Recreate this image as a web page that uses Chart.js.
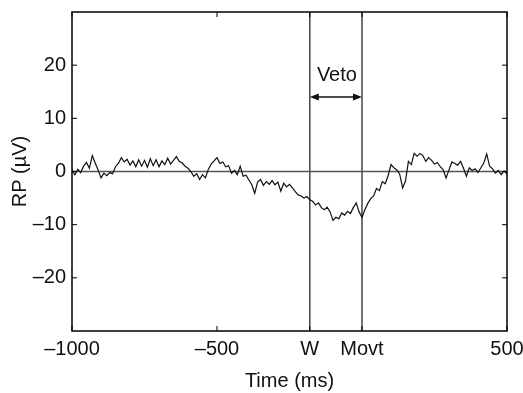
<!DOCTYPE html>
<html>
<head>
<meta charset="utf-8">
<script src="https://cdn.jsdelivr.net/npm/chart.js@4.4.1/dist/chart.umd.min.js"></script>
<style>
  html, body { margin: 0; padding: 0; background: #fff; }
</style>
</head>
<body>
<canvas id="rp" width="523" height="393"></canvas>
<script>
// ── Data ──
const sampleStart = -1000;   // ms, first sample
const sampleStep = 10;       // ms between samples

// readiness potential, µV, one value per sample from -1000 to 500 ms
const rpValues = [
  0.3, -0.6, 0.4, -0.2, 1.0, 1.7, 0.6, 3.0, 1.6, 0.3,
  -1.2, -0.3, -0.8, -0.2, -0.4, 0.9, 1.5, 2.6, 1.8, 2.3,
  1.2, 2.0, 0.9, 2.2, 1.0, 2.1, 0.8, 2.4, 1.1, 2.2,
  0.9, 2.0, 1.3, 2.5, 1.4, 2.1, 2.8, 1.9, 1.6, 1.0,
  0.6, 0.0, -0.9, -0.4, -1.5, -0.6, -1.2, 0.4, 1.4, 2.0,
  2.6, 1.5, 1.8, 0.9, 1.1, -0.3, 0.2, -0.6, 1.0, -0.9,
  -0.7, -1.6, -2.5, -4.1, -2.0, -1.5, -2.6, -1.9, -2.4, -1.7,
  -2.5, -2.0, -3.7, -2.2, -2.9, -2.4, -3.1, -3.8, -4.4, -4.6,
  -5.0, -4.7, -5.3, -5.6, -6.3, -5.9, -6.8, -7.2, -6.7, -7.6,
  -9.2, -8.6, -8.9, -7.8, -8.2, -7.5, -7.9, -6.8, -5.9, -7.6,
  -8.6, -7.2, -6.0, -5.1, -4.6, -3.2, -3.6, -1.9, -2.3, -0.8,
  1.3, 0.7, 0.3, -0.5, -3.1, -1.8, 1.9, 1.3, 3.4, 2.9,
  3.4, 3.0, 1.9, 2.6, 2.1, 1.4, 1.7, 0.9, 0.3, -1.2,
  0.3, 1.8, 1.5, 1.2, 1.9, 0.6, -0.9, 0.7, 0.2, 0.5,
  -0.2, 0.7, 1.6, 3.3, 1.0, 0.5, -0.3, 0.2, -0.6, 0.1,
  -0.5
];

const xRange = [-1000, 500];
const yRange = [-30, 30];
const xTickValues = [-1000, -500, -180, 0, 500];
const xTickLabels = ['\u20131000', '\u2013500', 'W', 'Movt', '500'];
const yTickValues = [-20, -10, 0, 10, 20];
const yTickLabels = ['\u201320', '\u201310', '0', '10', '20'];

const markerTimes = [-180, 0];   // W, Movt
const vetoArrowY = 14;
const vetoLabelY = 18;
const vetoLabel = 'Veto';

const FONT = 'Liberation Sans, Arial, Helvetica, sans-serif';

// ── Frame, inward ticks and veto arrow ──
const framePlugin = {
  id: 'frame',
  afterDatasetsDraw(chart) {
    const { ctx, chartArea: a, scales: { x, y } } = chart;
    ctx.save();
    ctx.strokeStyle = '#000';
    ctx.lineWidth = 1.5;
    ctx.strokeRect(a.left, a.top, a.right - a.left, a.bottom - a.top);

    const tl = 5;
    ctx.lineWidth = 1;
    ctx.beginPath();
    yTickValues.forEach(v => {
      const py = y.getPixelForValue(v);
      ctx.moveTo(a.left, py); ctx.lineTo(a.left + tl, py);
      ctx.moveTo(a.right, py); ctx.lineTo(a.right - tl, py);
    });
    xTickValues.forEach(v => {
      const px = x.getPixelForValue(v);
      ctx.moveTo(px, a.bottom); ctx.lineTo(px, a.bottom - tl);
      ctx.moveTo(px, a.top); ctx.lineTo(px, a.top + tl);
    });
    ctx.stroke();

    // double arrow between W and Movt
    const x1 = x.getPixelForValue(markerTimes[0]);
    const x2 = x.getPixelForValue(markerTimes[1]);
    const ay = y.getPixelForValue(vetoArrowY);
    const head = 9, half = 3.5;
    ctx.strokeStyle = '#111';
    ctx.fillStyle = '#111';
    ctx.lineWidth = 1.5;
    ctx.beginPath();
    ctx.moveTo(x1 + head - 1, ay); ctx.lineTo(x2 - head + 1, ay);
    ctx.stroke();
    ctx.beginPath();
    ctx.moveTo(x1, ay); ctx.lineTo(x1 + head, ay - half); ctx.lineTo(x1 + head, ay + half);
    ctx.closePath();
    ctx.moveTo(x2, ay); ctx.lineTo(x2 - head, ay - half); ctx.lineTo(x2 - head, ay + half);
    ctx.closePath();
    ctx.fill();

    ctx.font = `20px ${FONT}`;
    ctx.textAlign = 'center';
    ctx.textBaseline = 'middle';
    ctx.fillStyle = '#111';
    ctx.fillText(vetoLabel, (x1 + x2) / 2 + 1, y.getPixelForValue(vetoLabelY));
    ctx.restore();
  }
};

const trace = rpValues.map((v, i) => ({ x: sampleStart + i * sampleStep, y: v }));
const vline = t => [{ x: t, y: yRange[0] }, { x: t, y: yRange[1] }];

new Chart(document.getElementById('rp'), {
  type: 'line',
  data: {
    datasets: [
      { data: trace, borderColor: '#111', borderWidth: 1.2, pointRadius: 0, tension: 0 },
      { data: [{ x: xRange[0], y: 0 }, { x: xRange[1], y: 0 }], borderColor: '#555', borderWidth: 1.5, pointRadius: 0 },
      { data: vline(markerTimes[0]), borderColor: '#444', borderWidth: 1.5, pointRadius: 0 },
      { data: vline(markerTimes[1]), borderColor: '#444', borderWidth: 1.5, pointRadius: 0 }
    ]
  },
  options: {
    responsive: false,
    animation: false,
    layout: { padding: { top: 12, right: 16, bottom: 0, left: 0 } },
    plugins: { legend: { display: false }, tooltip: { enabled: false } },
    scales: {
      x: {
        type: 'linear',
        min: xRange[0],
        max: xRange[1],
        grid: { display: false, drawTicks: false, tickLength: 0 },
        border: { display: false },
        afterBuildTicks: s => { s.ticks = xTickValues.map(v => ({ value: v })); },
        afterFit: s => { s.height = 62; s.paddingLeft = 0; s.paddingRight = 0; },
        ticks: {
          autoSkip: false,
          maxRotation: 0,
          padding: 6,
          color: '#111',
          font: { family: FONT, size: 20 },
          callback: (v, i) => xTickLabels[i]
        },
        title: {
          display: true,
          text: 'Time (ms)',
          color: '#111',
          font: { family: FONT, size: 20 },
          padding: { top: 0, bottom: 0 }
        }
      },
      y: {
        min: yRange[0],
        max: yRange[1],
        grid: { display: false, drawTicks: false, tickLength: 0 },
        border: { display: false },
        afterBuildTicks: s => { s.ticks = yTickValues.map(v => ({ value: v })); },
        afterFit: s => { s.width = 72; s.paddingTop = 0; s.paddingBottom = 0; },
        ticks: {
          autoSkip: false,
          padding: 6,
          color: '#111',
          font: { family: FONT, size: 20 },
          callback: (v, i) => yTickLabels[i]
        },
        title: {
          display: true,
          text: 'RP (\u00b5V)',
          color: '#111',
          font: { family: FONT, size: 20 },
          padding: { top: 8, bottom: 0 }
        }
      }
    }
  },
  plugins: [framePlugin]
});
</script>
</body>
</html>
